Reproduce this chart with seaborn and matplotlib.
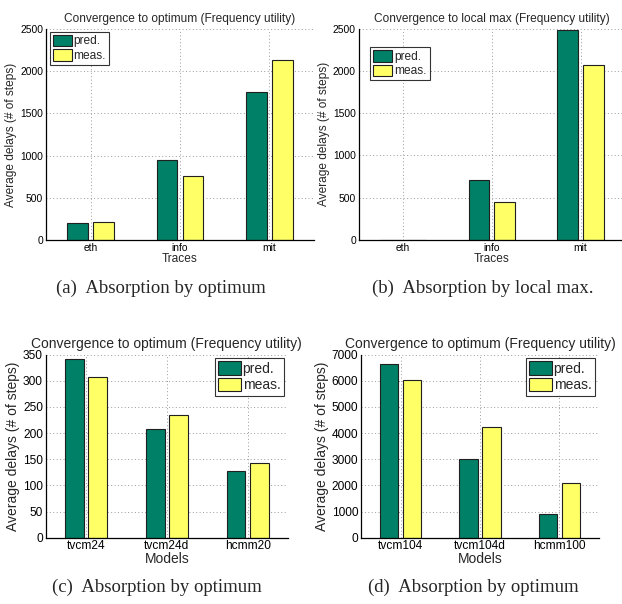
import matplotlib
matplotlib.use("Agg")
import matplotlib.pyplot as plt
import seaborn as sns
import pandas as pd

# ---- data ----
series = ["pred.", "meas."]
traces = ["eth", "info", "mit"]
a_pred = [198, 945, 1752]
a_meas = [210, 755, 2130]
b_pred = [5, 706, 2490]
b_meas = [3, 453, 2076]
models_c = ["tvcm24", "tvcm24d", "hcmm20"]
c_pred = [342, 207, 128]
c_meas = [308, 235, 143]
models_d = ["tvcm104", "tvcm104d", "hcmm100"]
d_pred = [6630, 2996, 905]
d_meas = [6044, 4220, 2091]

titles = ["Convergence to optimum (Frequency utility)",
          "Convergence to local max (Frequency utility)",
          "Convergence to optimum (Frequency utility)",
          "Convergence to optimum (Frequency utility)"]
captions = ["(a)  Absorption by optimum", "(b)  Absorption by local max.",
            "(c)  Absorption by optimum", "(d)  Absorption by optimum"]
xlabels = ["Traces", "Traces", "Models", "Models"]
ylabel = "Average delays (# of steps)"
yticks = [[0, 500, 1000, 1500, 2000, 2500], [0, 500, 1000, 1500, 2000, 2500],
          [0, 50, 100, 150, 200, 250, 300, 350],
          [0, 1000, 2000, 3000, 4000, 5000, 6000, 7000]]
ymax = [2500, 2500, 350, 7000]

sns.set_style("white")
plt.rcParams['font.family'] = ['Liberation Sans', 'DejaVu Sans']

W, H = 622, 604
fig = plt.figure(figsize=(W / 100, H / 100), dpi=100)

# pixel boxes: left, right, top, bottom
boxes = [(46, 314, 29, 240), (358.7, 625, 28.7, 240),
         (45.7, 288, 354.7, 537.7), (361, 599, 354.7, 537.7)]
fs = [7.4, 7.4, 8.6, 8.6]
lab_fs = [8.6, 8.6, 10.0, 10.0]
legend_loc = ["upper left", "upper left", "upper right", "upper right"]
legend_anchor = [(0.0, 1.005), (0.03, 0.93), (1.0, 1.005), (1.0, 1.005)]
cap_x = [160.8, 482.7, 156.7, 473.5]
cap_y = [293, 293, 592, 592]

datasets = [(traces, a_pred, a_meas), (traces, b_pred, b_meas),
            (models_c, c_pred, c_meas), (models_d, d_pred, d_meas)]

colors = ["#008066", "#FFFF66"]

for i, (cats, pred, meas) in enumerate(datasets):
    l, r, t, b = boxes[i]
    ax = fig.add_axes([l / W, (H - b) / H, (r - l) / W, (b - t) / H])
    df = pd.DataFrame({
        "cat": cats * 2,
        "val": pred + meas,
        "series": [series[0]] * 3 + [series[1]] * 3,
    })
    sns.barplot(data=df, x="cat", y="val", hue="series", palette=colors,
                width=0.58, gap=0.2, edgecolor="#202020", linewidth=0.8,
                saturation=1, ax=ax)
    ax.set_xlim(-0.5, 2.5)
    ax.set_ylim(0, ymax[i])
    ax.set_yticks(yticks[i])
    ax.set_axisbelow(True)
    ax.grid(True, linestyle=(0, (1, 2.5)), color="#9a9a9a", linewidth=0.7)
    for s in ["top", "right"]:
        ax.spines[s].set_visible(False)
    for s in ["left", "bottom"]:
        ax.spines[s].set_color("black")
        ax.spines[s].set_linewidth(0.9)
    ax.tick_params(direction="in", length=3, width=0.6, labelsize=fs[i],
                   pad=2, colors="black")
    ax.set_xlabel(xlabels[i], fontsize=lab_fs[i], labelpad=0)
    ax.set_ylabel(ylabel, fontsize=lab_fs[i], labelpad=2)
    ax.set_title(titles[i], fontsize=lab_fs[i], pad=5)
    leg = ax.legend(loc=legend_loc[i], bbox_to_anchor=legend_anchor[i],
                    fontsize=lab_fs[i], frameon=True, fancybox=False,
                    edgecolor="black", handlelength=1.6, handleheight=1.1,
                    handletextpad=0.15, borderpad=0.25, labelspacing=0.15,
                    borderaxespad=0.3)
    leg.get_frame().set_linewidth(0.8)
    fig.text(cap_x[i] / W, (H - cap_y[i]) / H, captions[i],
             family=['Liberation Serif', 'DejaVu Serif'], fontsize=13.5,
             ha="center", va="baseline")

fig.savefig("out.png", dpi=100)
